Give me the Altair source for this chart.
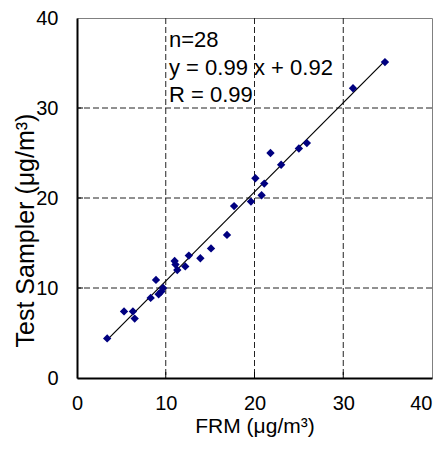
import altair as alt
import pandas as pd

# Data
frm = [3.4, 5.3, 6.3, 6.5, 8.3, 8.9, 9.2, 9.5, 9.7, 11.0, 11.1, 11.3, 12.2, 12.6,
       13.9, 15.1, 16.9, 17.7, 19.6, 20.1, 20.8, 21.1, 21.8, 23.0, 25.0, 25.9, 31.1, 34.7]
test_sampler = [4.4, 7.4, 7.4, 6.6, 8.9, 10.9, 9.3, 9.6, 10.0, 13.0, 12.6, 12.0, 12.4, 13.6,
                13.3, 14.4, 15.9, 19.1, 19.6, 22.2, 20.3, 21.6, 25.0, 23.7, 25.5, 26.1, 32.2, 35.1]
axis_values = [0, 10, 20, 30, 40]
inner_ticks = [10, 20, 30]
annotation_lines = ["n=28", "y = 0.99 x + 0.92", "R = 0.99"]

FONT = "Liberation Sans"

df = pd.DataFrame({"x": frm, "y": test_sampler})
ticks_df = pd.DataFrame({"v": inner_ticks})
ann_df = pd.DataFrame({"label": annotation_lines, "i": list(range(len(annotation_lines)))})

xscale = alt.Scale(domain=[0, 40], nice=False, zero=False)
yscale = alt.Scale(domain=[0, 40], nice=False, zero=False)

x_axis = alt.Axis(values=axis_values, grid=False, ticks=False, tickSize=0,
                  labelFontSize=20, labelFont=FONT, labelColor="black", labelPadding=15,
                  labelAlign=alt.condition("datum.value == 40", alt.value("right"), alt.value("center")),
                  domainColor="black", domainWidth=2,
                  title="FRM (μg/m³)", titleFont=FONT, titleFontSize=21,
                  titleFontWeight="normal", titleColor="black",
                  titleY=54, titleBaseline="alphabetic")
y_axis = alt.Axis(values=axis_values, grid=False, ticks=False, tickSize=0,
                  labelFontSize=20, labelFont=FONT, labelColor="black", labelPadding=19,
                  domainColor="black", domainWidth=2,
                  title="Test Sampler (μg/m³)", titleFont=FONT, titleFontSize=25,
                  titleFontWeight="normal", titleColor="black",
                  titleX=-44, titleY=212, titleAlign="center", titleBaseline="alphabetic",
                  titleAngle=270)

base = alt.Chart(df)

points = base.mark_point(shape="diamond", filled=True, size=70, color="#000080", opacity=1).encode(
    x=alt.X("x:Q", scale=xscale, axis=x_axis),
    y=alt.Y("y:Q", scale=yscale, axis=y_axis),
)

fit = base.transform_regression("x", "y").mark_line(color="black", strokeWidth=1.2).encode(
    x=alt.X("x:Q", scale=xscale),
    y=alt.Y("y:Q", scale=yscale),
)

grid_x = alt.Chart(ticks_df).mark_rule(color="#222222", strokeWidth=1, strokeDash=[6, 3]).encode(
    x=alt.X("v:Q", scale=xscale)
)
grid_y = alt.Chart(ticks_df).mark_rule(color="#222222", strokeWidth=1, strokeDash=[6, 3]).encode(
    y=alt.Y("v:Q", scale=yscale)
)
tick_x = alt.Chart(ticks_df).mark_rule(color="black", strokeWidth=1).encode(
    x=alt.X("v:Q", scale=xscale), y=alt.value(360), y2=alt.value(354)
)
tick_y = alt.Chart(ticks_df).mark_rule(color="black", strokeWidth=1).encode(
    y=alt.Y("v:Q", scale=yscale), x=alt.value(0), x2=alt.value(6)
)

ann = alt.Chart(ann_df).transform_calculate(
    yy="29 + datum.i * 27.5"
).mark_text(align="left", baseline="alphabetic", font=FONT, fontSize=22, color="black").encode(
    x=alt.value(92),
    y=alt.Y("yy:Q", scale=None),
    text="label:N",
)

chart = alt.layer(grid_x, grid_y, tick_x, tick_y, fit, points, ann).properties(
    width=355, height=360,
    padding={"left": 69, "top": 10, "right": 6, "bottom": 60},
    autosize=alt.AutoSizeParams(type="none"),
    background="white",
).configure_view(stroke="#808080", strokeWidth=1)

chart.save("out.html", embed_options={"renderer": "svg", "actions": False})
